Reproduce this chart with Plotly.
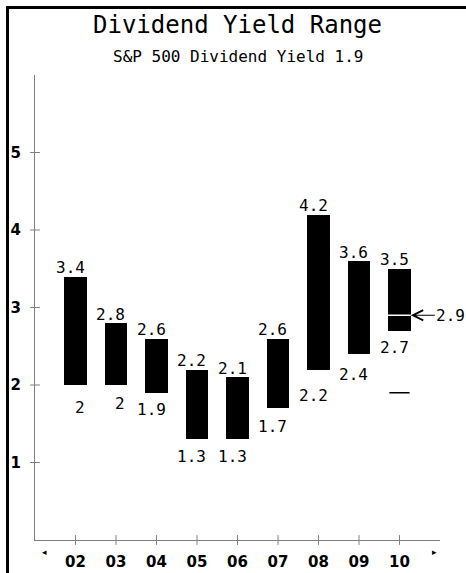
import plotly.graph_objects as go

# ---- data ----
years = ["02", "03", "04", "05", "06", "07", "08", "09", "10"]
low = [2.0, 2.0, 1.9, 1.3, 1.3, 1.7, 2.2, 2.4, 2.7]
high = [3.4, 2.8, 2.6, 2.2, 2.1, 2.6, 4.2, 3.6, 3.5]
current_yield = 2.9
sp500_yield = 1.9
y_ticks = [1, 2, 3, 4, 5]

# ---- style ----
bottom_label_offsets = [22, 18, 17, 17, 17, 18, 26, 20, 17]  # px below bar bottom
BAR_W = 0.56
MONO = "DejaVu Sans Mono"
GRAY = "#808080"

pos = list(range(1, len(years) + 1))
fig = go.Figure()

fig.add_trace(go.Bar(
    x=pos, y=[h - l for h, l in zip(high, low)], base=low,
    width=BAR_W, marker=dict(color="black", line=dict(width=0)),
    hoverinfo="skip", showlegend=False,
))

# current yield: white line across last bar
last = pos[-1]
fig.add_trace(go.Scatter(
    x=[last - BAR_W / 2, last + BAR_W / 2], y=[current_yield, current_yield],
    mode="lines", line=dict(color="white", width=1.5), showlegend=False, hoverinfo="skip",
))
# S&P 500 yield dash
fig.add_trace(go.Scatter(
    x=[last - 0.25, last + 0.25], y=[sp500_yield, sp500_yield],
    mode="lines", line=dict(color="black", width=1.5), showlegend=False, hoverinfo="skip",
))

# crossing tick marks
fig.add_trace(go.Scatter(
    x=pos, y=[0] * len(pos), mode="markers", cliponaxis=False,
    marker=dict(symbol="line-ns", size=7, line=dict(color=GRAY, width=1)),
    showlegend=False, hoverinfo="skip",
))
fig.add_trace(go.Scatter(
    x=[0] * len(y_ticks), y=y_ticks, mode="markers", cliponaxis=False,
    marker=dict(symbol="line-ew", size=7, line=dict(color=GRAY, width=1)),
    showlegend=False, hoverinfo="skip",
))

annotations = []
for p, h, l, off in zip(pos, high, low, bottom_label_offsets):
    annotations.append(dict(x=p, y=h, xref="x", yref="y", text=f"{h:g}", showarrow=False,
                            xanchor="right", yanchor="middle", xshift=11, yshift=9,
                            font=dict(family=MONO, size=16, color="black")))
    annotations.append(dict(x=p, y=l, xref="x", yref="y", text=f"{l:g}", showarrow=False,
                            xanchor="right", yanchor="middle", xshift=11, yshift=-off,
                            font=dict(family=MONO, size=16, color="black")))

# arrow to current yield
annotations.append(dict(x=last + BAR_W / 2, y=current_yield, xref="x", yref="y",
                        text=f"{current_yield:g}", showarrow=True, ax=40, ay=0,
                        arrowhead=5, arrowsize=2, arrowwidth=1, arrowcolor="black",
                        font=dict(family=MONO, size=16, color="black")))

annotations.append(dict(x=0.5, y=(540 - 57) / 465, xref="paper", yref="paper",
                        text="S&P 500 Dividend Yield " + f"{sp500_yield:g}",
                        showarrow=False, yanchor="middle",
                        font=dict(family=MONO, size=16, color="black")))
annotations.append(dict(x=(39.5 - 35) / 405, y=(540 - 560) / 465, xref="paper", yref="paper",
                        text="◂", showarrow=False, font=dict(size=9, color="black")))
annotations.append(dict(x=(439 - 35) / 405, y=(540 - 560) / 465, xref="paper", yref="paper",
                        text="▸", showarrow=False, font=dict(size=9, color="black")))

shapes = [
    dict(type="line", xref="paper", yref="paper",
         x0=(7.5 - 35) / 405, x1=(7.5 - 35) / 405, y0=(540 - 6) / 465, y1=-0.2,
         line=dict(color="black", width=3)),
    dict(type="line", xref="paper", yref="paper",
         x0=(6 - 35) / 405, x1=1.2, y0=(540 - 7.5) / 465, y1=(540 - 7.5) / 465,
         line=dict(color="black", width=3)),
]

fig.update_layout(
    width=466, height=573,
    margin=dict(l=35, r=26, t=75, b=33, autoexpand=False),
    paper_bgcolor="white", plot_bgcolor="white",
    title=dict(text="Dividend Yield Range", x=0.5, xref="paper", y=1 - 25 / 573,
               yref="container", yanchor="middle", xanchor="center",
               font=dict(family=MONO, size=24, color="black")),
    xaxis=dict(range=[0, 10], tickvals=pos, ticktext=years, showgrid=False, zeroline=False,
               showline=True, linecolor=GRAY, linewidth=1, ticks="", ticklabelstandoff=8,
               automargin=False,
               tickfont=dict(family="DejaVu Sans", size=15, color="black", weight="bold")),
    yaxis=dict(range=[0, 6], tickvals=y_ticks, showgrid=False, zeroline=False,
               showline=True, linecolor=GRAY, linewidth=1, ticks="", ticklabelstandoff=10,
               automargin=False,
               tickfont=dict(family="DejaVu Sans", size=15, color="black", weight="bold")),
    annotations=annotations, shapes=shapes, showlegend=False, bargap=0,
)

fig.write_html("out.html", config={"displayModeBar": False},
               post_script="document.body.style.margin='0';")
